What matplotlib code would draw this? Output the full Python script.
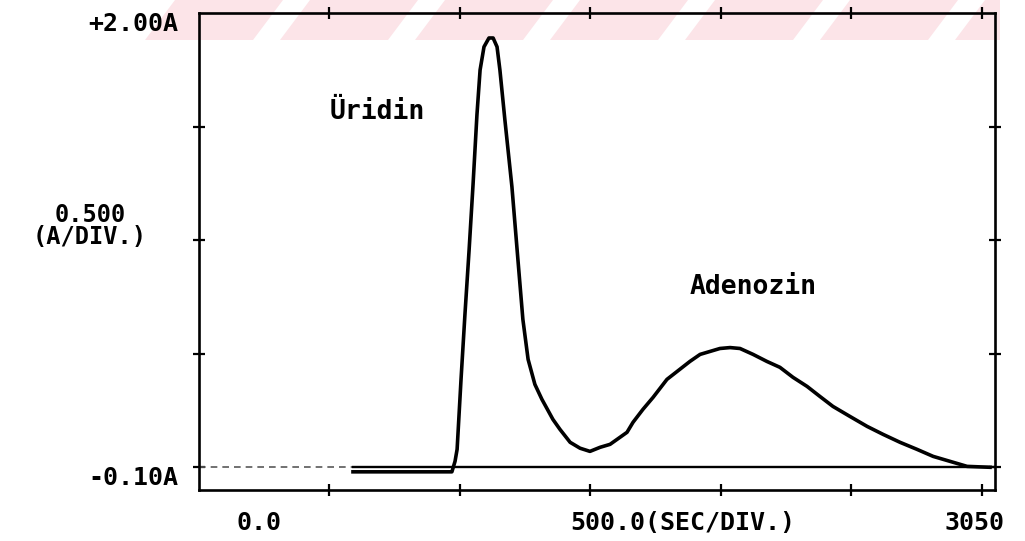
import matplotlib
matplotlib.use('Agg')
import matplotlib.pyplot as plt
from matplotlib.patches import Polygon

# chromatogram trace (time in s, absorbance in A)
time_s = [590, 969, 981, 989, 1004, 1019, 1035, 1050, 1065, 1077, 1092, 1111,
          1127, 1142, 1153, 1172, 1199, 1222, 1241, 1261, 1287, 1314, 1356,
          1383, 1422, 1460, 1498, 1537, 1575, 1602, 1640, 1663, 1701, 1740,
          1793, 1832, 1881, 1920, 1958, 1996, 2035, 2073, 2123, 2176, 2226,
          2276, 2330, 2379, 2429, 2494, 2560, 2621, 2686, 2751, 2813, 2878,
          2943, 3031]
absorbance = [-0.02, -0.02, 0.026, 0.079, 0.387, 0.673, 0.958, 1.244, 1.552,
              1.749, 1.851, 1.890, 1.890, 1.851, 1.749, 1.530, 1.235, 0.914,
              0.651, 0.475, 0.365, 0.299, 0.211, 0.167, 0.110, 0.084, 0.070,
              0.088, 0.101, 0.123, 0.154, 0.198, 0.255, 0.308, 0.387, 0.422,
              0.466, 0.497, 0.510, 0.523, 0.527, 0.523, 0.497, 0.466, 0.440,
              0.396, 0.356, 0.312, 0.268, 0.224, 0.180, 0.145, 0.110, 0.079,
              0.048, 0.026, 0.004, 0.0]

peak_names = ["Üridin", "Adenozin"]
x_ticks = [500, 1000, 1500, 2000, 2500, 3000]
y_ticks = [0.0, 0.5, 1.0, 1.5]
x_range = (0, 3050)
y_range = (-0.10, 2.00)

W, H = 1025, 541


def fx(px):
    return px / W


def fy(py):
    return 1 - py / H


fig = plt.figure(figsize=(W / 100, H / 100), dpi=100)
fig.patch.set_facecolor('white')

# faint pink watermark stripes along the top of the scan
pink = '#fce4e8'
for k in range(7):
    x0 = 145 + k * 135
    pts = [(x0, 40), (min(x0 + 108, 1000), 40),
           (min(x0 + 138, 1000), 0), (min(x0 + 30, 1000), 0)]
    fig.add_artist(Polygon([(fx(a), fy(b)) for a, b in pts], closed=True,
                           transform=fig.transFigure, facecolor=pink,
                           edgecolor='none', zorder=-5))

ax = fig.add_axes([fx(199), fy(490), 796 / W, 477 / H])
ax.set_facecolor('none')
ax.set_xlim(*x_range)
ax.set_ylim(*y_range)

for s in ax.spines.values():
    s.set_linewidth(1.9)
    s.set_color('black')

ax.set_xticks(x_ticks)
ax.set_yticks(y_ticks)
ax.tick_params(direction='inout', length=8, width=1.6, top=True, right=True,
               labelbottom=False, labelleft=False)

# zero line: noisy at the start, solid under the trace
ax.axhline(0, xmax=590 / 3050, color='0.35', lw=1.2, ls=(0, (4, 3)))
ax.axhline(0, xmin=590 / 3050, color='black', lw=1.7)

ax.plot(time_s, absorbance, color='black', lw=2.6, solid_joinstyle='round')

mono = dict(family='DejaVu Sans Mono', fontweight='bold', color='black')
fig.text(fx(178), fy(24), "+2.00A", ha='right', va='center', fontsize=18, **mono)
fig.text(fx(90), fy(226), "0.500\n(A/DIV.)", ha='center', va='center',
         multialignment='center', linespacing=0.85, fontsize=17, **mono)
fig.text(fx(178), fy(478), "-0.10A", ha='right', va='center', fontsize=18, **mono)

fig.text(fx(259), fy(523), "0.0", ha='center', va='center', fontsize=18, **mono)
fig.text(fx(683), fy(523), "500.0(SEC/DIV.)", ha='center', va='center', fontsize=18, **mono)
fig.text(fx(974), fy(523), "3050", ha='center', va='center', fontsize=18, **mono)

fig.text(fx(330), fy(112), peak_names[0], ha='left', va='center', fontsize=19, **mono)
fig.text(fx(690), fy(287), peak_names[1], ha='left', va='center', fontsize=19, **mono)

fig.savefig('out.png', dpi=100)
